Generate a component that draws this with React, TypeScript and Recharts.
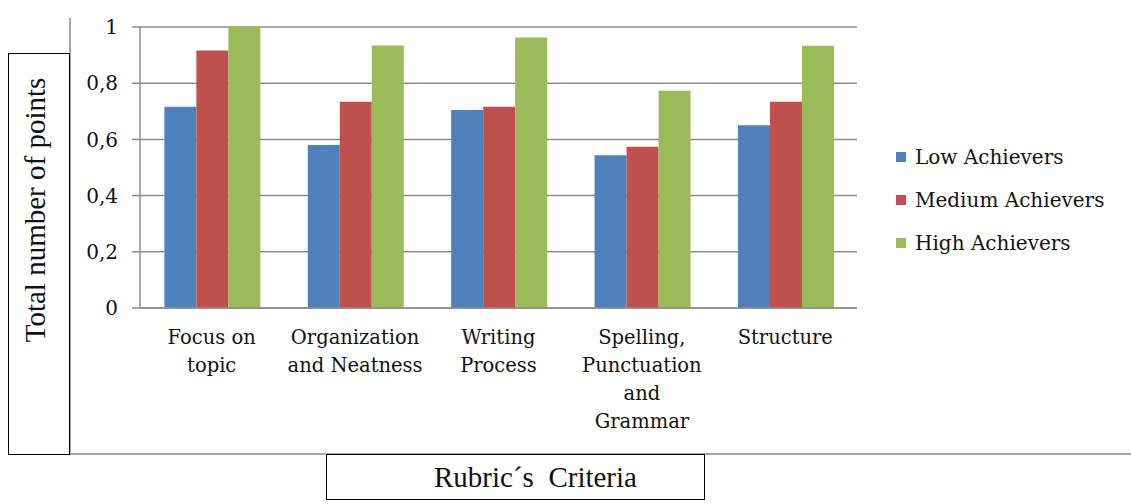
import React from 'react';
import { BarChart, Bar, XAxis, YAxis, CartesianGrid, Legend } from 'recharts';

const criteria = [
  'Focus on\ntopic',
  'Organization\nand Neatness',
  'Writing\nProcess',
  'Spelling,\nPunctuation\nand\nGrammar',
  'Structure',
];
const lowAchievers = [0.716, 0.58, 0.705, 0.544, 0.65];
const mediumAchievers = [0.916, 0.734, 0.716, 0.574, 0.734];
const highAchievers = [1.0, 0.934, 0.963, 0.773, 0.933];
const yTicks = [0, 0.2, 0.4, 0.6, 0.8, 1];
const edgeTicks = [0, 1, 2, 3, 4, 5];

const data = criteria.map((name, i) => ({
  name,
  low: lowAchievers[i],
  medium: mediumAchievers[i],
  high: highAchievers[i],
}));

const FONT = '"DejaVu Serif", serif';
const TITLE_FONT = '"Liberation Serif", serif';
const GRID = '#8c8c8c';

const CategoryTick = ({ x, y, payload }: any) => {
  const lines = String(payload.value).split('\n');
  return (
    <text x={x} y={y} textAnchor="middle" fontFamily={FONT} fontSize={19.5} fill="#111">
      {lines.map((l, i) => (
        <tspan key={i} x={x} dy={i === 0 ? '0.72em' : 28}>
          {l}
        </tspan>
      ))}
    </text>
  );
};

const LegendContent = ({ payload }: any) => (
  <div>
    {(payload || []).map((entry: any, i: number) => (
      <div
        key={i}
        style={{ display: 'flex', alignItems: 'center', height: 43, fontFamily: FONT, fontSize: 20, color: '#111' }}
      >
        <span style={{ width: 10, height: 10, background: entry.color, marginRight: 9, display: 'inline-block' }} />
        {entry.value}
      </div>
    ))}
  </div>
);

export default function App() {
  return (
    <div style={{ position: 'relative', width: 1131, height: 504, background: '#fff' }}>
      <style>{'body{margin:0}'}</style>
      {/* chart frame edges */}
      <div style={{ position: 'absolute', left: 69, top: 18, width: 2, height: 437, background: '#a6a6a6' }} />
      <div style={{ position: 'absolute', left: 69, top: 453, width: 1062, height: 2, background: '#a6a6a6' }} />

      <div style={{ position: 'absolute', left: 0, top: 0 }}>
        <BarChart
          width={1131}
          height={454}
          data={data}
          margin={{ top: 27, right: 274, left: 70, bottom: 0 }}
          barCategoryGap="17%"
          barGap={0}
        >
          <CartesianGrid vertical={false} stroke={GRID} strokeWidth={1.5} />
          <XAxis
            xAxisId="edge"
            type="number"
            domain={[0, 5]}
            ticks={edgeTicks}
            tick={false}
            tickSize={7}
            axisLine={false}
            tickLine={{ stroke: GRID, strokeWidth: 1.5 }}
            height={0}
          />
          <XAxis
            dataKey="name"
            interval={0}
            tick={<CategoryTick />}
            tickLine={false}
            tickSize={0}
            tickMargin={22}
            axisLine={{ stroke: GRID, strokeWidth: 1.5 }}
            height={146}
          />
          <YAxis
            domain={[0, 1]}
            ticks={yTicks}
            width={70}
            tickSize={8}
            tickMargin={14}
            tickFormatter={(v: number) => String(v).replace('.', ',')}
            tick={{ fontFamily: FONT, fontSize: 20, fill: '#111' }}
            axisLine={{ stroke: GRID, strokeWidth: 1.5 }}
            tickLine={{ stroke: GRID, strokeWidth: 1.5 }}
          />
          <Legend
            layout="vertical"
            align="center"
            verticalAlign="middle"
            itemSorter={null}
            wrapperStyle={{ left: 896, top: 135, width: 235 }}
            content={<LegendContent />}
          />
          <Bar dataKey="low" name="Low Achievers" fill="#4F81BD" isAnimationActive={false} />
          <Bar dataKey="medium" name="Medium Achievers" fill="#C0504D" isAnimationActive={false} />
          <Bar dataKey="high" name="High Achievers" fill="#9BBB59" isAnimationActive={false} />
        </BarChart>
      </div>

      {/* y-axis title box */}
      <div
        style={{
          position: 'absolute',
          left: 8,
          top: 53,
          width: 62,
          height: 402,
          border: '1.5px solid #000',
          boxSizing: 'border-box',
          background: '#fff',
        }}
      />
      <div
        style={{
          position: 'absolute',
          left: 35,
          top: 210,
          transform: 'translate(-50%, -50%) rotate(-90deg)',
          fontFamily: TITLE_FONT,
          fontSize: 29,
          whiteSpace: 'nowrap',
          color: '#111',
        }}
      >
        Total number of points
      </div>

      {/* x-axis title box */}
      <div
        style={{
          position: 'absolute',
          left: 326,
          top: 454,
          width: 379,
          height: 46,
          border: '1.5px solid #000',
          boxSizing: 'border-box',
          background: '#fff',
          fontFamily: TITLE_FONT,
          fontSize: 29,
          color: '#111',
          display: 'flex',
          alignItems: 'center',
          justifyContent: 'center',
          paddingLeft: 40,
        }}
      >
        Rubric´s&nbsp; Criteria
      </div>
    </div>
  );
}
